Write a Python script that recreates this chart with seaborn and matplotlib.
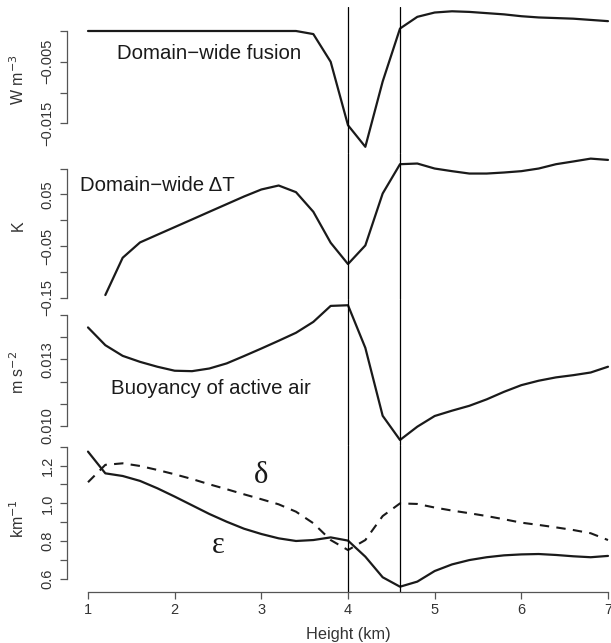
import numpy as np
import pandas as pd
import seaborn as sns
import matplotlib.pyplot as plt

# heights (km)
height = [1.0, 1.2, 1.4, 1.6, 1.8, 2.0, 2.2, 2.4, 2.6, 2.8, 3.0,
          3.2, 3.4, 3.6, 3.8, 4.0, 4.2, 4.4, 4.6, 4.8, 5.0,
          5.2, 5.4, 5.6, 5.8, 6.0, 6.2, 6.4, 6.6, 6.8, 7.0]

# domain-wide fusion (W m-3)
fusion = [0.0, 0.0, 0.0, 0.0, 0.0, 0.0, 0.0, 0.0, 0.0, 0.0, 0.0,
          0.0, 0.0, -0.0005, -0.005, -0.0153, -0.0188, -0.0082, 0.0004, 0.0023, 0.0030,
          0.0032, 0.0031, 0.0029, 0.0027, 0.0024, 0.0022, 0.0021, 0.0020, 0.0018, 0.0016]

# domain-wide delta T (K)
dtemp = [np.nan, -0.1448, -0.0726, -0.0429, -0.028, -0.0132, 0.0016, 0.0165, 0.0313, 0.0461, 0.0597,
         0.0674, 0.0545, 0.0165, -0.0435, -0.0848, -0.0487, 0.0519, 0.1087, 0.110, 0.1003,
         0.0952, 0.0906, 0.0906, 0.0926, 0.0952, 0.1003, 0.1087, 0.114, 0.1195, 0.117]

# buoyancy of active air (m s-2)
buoy = [0.01444, 0.01364, 0.01316, 0.01289, 0.01267, 0.01249, 0.01247, 0.01259, 0.01282, 0.01315, 0.01349,
        0.01384, 0.01420, 0.01469, 0.01541, 0.01544, 0.01352, 0.01046, 0.00937, 0.00997, 0.01045,
        0.01069, 0.01091, 0.01120, 0.01154, 0.01184, 0.01204, 0.01219, 0.01229, 0.01241, 0.01267]

# entrainment (epsilon) and detrainment (delta), km-1
eps = [1.274, 1.159, 1.145, 1.119, 1.080, 1.036, 0.990, 0.944, 0.903, 0.866, 0.838,
       0.815, 0.801, 0.806, 0.820, 0.803, 0.718, 0.609, 0.559, 0.586, 0.642,
       0.677, 0.700, 0.715, 0.725, 0.730, 0.732, 0.727, 0.720, 0.715, 0.722]
delta = [1.112, 1.204, 1.212, 1.198, 1.177, 1.154, 1.129, 1.101, 1.075, 1.048, 1.022,
         0.995, 0.956, 0.895, 0.806, 0.753, 0.806, 0.933, 1.000, 0.997, 0.978,
         0.962, 0.948, 0.933, 0.916, 0.898, 0.886, 0.873, 0.859, 0.842, 0.806]

df = pd.DataFrame({"height": height, "fusion": fusion, "dT": dtemp,
                   "buoy": buoy, "eps": eps, "delta": delta})

sns.set_style("white")
plt.rcParams['font.family'] = ['Liberation Sans', 'DejaVu Sans']

fig = plt.figure(figsize=(6.11, 6.43), dpi=100)

left = 67.2 / 611
width = 561.6 / 611
H = 643.0
panel_px = [(7, 153), (153, 299), (299, 445), (445, 592)]
axes = []
for top, bot in panel_px:
    ax = fig.add_axes([left, (H - bot) / H, width, (bot - top) / H])
    axes.append(ax)

ylims = [(-0.019805, 0.003896), (-0.1525, 0.1304), (0.009144, 0.015721), (0.531, 1.309)]
yticks = [[-0.015, -0.010, -0.005, 0.0],
          [-0.15, -0.10, -0.05, 0.0, 0.05, 0.10],
          [0.010, 0.011, 0.012, 0.013, 0.014, 0.015],
          [0.6, 0.7, 0.8, 0.9, 1.0, 1.1, 1.2, 1.3]]
ylabels = [["\u22120.015", "", "\u22120.005", ""],
           ["\u22120.15", "", "\u22120.05", "", "0.05", ""],
           ["0.010", "", "", "0.013", "", ""],
           ["0.6", "", "0.8", "", "1.0", "", "1.2", ""]]
units = [r"W m$^{-3}$", "K", r"m s$^{-2}$", r"km$^{-1}$"]

line_kw = dict(color="#1a1a1a", linewidth=1.6)
sns.lineplot(data=df, x="height", y="fusion", ax=axes[0], **line_kw)
sns.lineplot(data=df.dropna(), x="height", y="dT", ax=axes[1], **line_kw)
sns.lineplot(data=df, x="height", y="buoy", ax=axes[2], **line_kw)
sns.lineplot(data=df, x="height", y="eps", ax=axes[3], **line_kw)
sns.lineplot(data=df, x="height", y="delta", ax=axes[3], color="#1a1a1a",
             linewidth=1.5, linestyle=(0, (4.5, 3.5)))

axis_col = "#555555"
for i, ax in enumerate(axes):
    ax.set_xlim(0.76, 7.24)
    ax.set_ylim(*ylims[i])
    ax.axvline(4.0, color="black", linewidth=0.9)
    ax.axvline(4.6, color="black", linewidth=0.9)
    for s in ["top", "right", "bottom"]:
        ax.spines[s].set_visible(False)
    ax.spines["left"].set_bounds(yticks[i][0], yticks[i][-1])
    ax.spines["left"].set_color(axis_col)
    ax.spines["left"].set_linewidth(0.9)
    ax.set_yticks(yticks[i])
    ax.set_yticklabels(ylabels[i], rotation=90, va="center", fontsize=10.5, color="#333333")
    ax.tick_params(axis="y", direction="out", length=5, width=0.9, color=axis_col, pad=4, left=True)
    ax.set_ylabel(units[i], fontsize=11.5, color="#333333", va="center")
    ax.yaxis.set_label_coords(-0.088, 0.5)
    ax.patch.set_alpha(0)
    if i < 3:
        ax.set_xticks([])
        ax.set_xlabel("")

bx = axes[3]
bx.spines["bottom"].set_visible(True)
bx.spines["bottom"].set_bounds(1, 7)
bx.spines["bottom"].set_color(axis_col)
bx.spines["bottom"].set_linewidth(0.9)
bx.set_xticks([1, 2, 3, 4, 5, 6, 7])
bx.set_xticklabels(["1", "2", "3", "4", "5", "6", "7"], fontsize=10.5, color="#333333")
bx.tick_params(axis="x", direction="out", length=5, width=0.9, color=axis_col, pad=3, bottom=True)
bx.set_xlabel("Height (km)", fontsize=11.7, color="#333333", labelpad=7)

txt_size = 14.7
axes[0].text(1.335, -0.0036, "Domain\u2212wide fusion", fontsize=txt_size, ha="left", va="center", color="#1a1a1a")
axes[1].text(0.908, 0.0665, "Domain\u2212wide \u0394T", fontsize=txt_size, ha="left", va="center", color="#1a1a1a")
axes[2].text(1.265, 0.01171, "Buoyancy of active air", fontsize=txt_size, ha="left", va="center", color="#1a1a1a")
axes[3].text(3.0, 1.15, "\u03b4", fontsize=22, ha="center", va="center",
             family=["Liberation Serif", "DejaVu Serif"], color="#1a1a1a")
axes[3].text(2.5, 0.775, "\u03b5", fontsize=22, ha="center", va="center",
             family=["Liberation Serif", "DejaVu Serif"], color="#1a1a1a")

fig.savefig("out.png", dpi=100)
